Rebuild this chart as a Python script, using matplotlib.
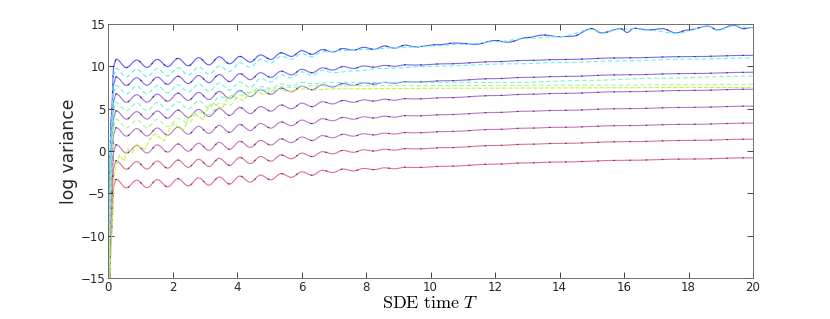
import numpy as np
import matplotlib
matplotlib.use('Agg')
import matplotlib.pyplot as plt
from matplotlib.path import Path
from matplotlib.patches import PathPatch
from matplotlib.colors import to_rgb

plt.rcParams['mathtext.fontset'] = 'cm'

# --- values ---
# initial jump of the paths (shared shape, second solid curve)
t_rise = [0.0, 0.1, 0.18]
l2_rise = [-16.0, 2.0, 8.0]

# peaks / troughs of the oscillation
t_osc = [0.25, 0.57, 0.89, 1.21, 1.53, 1.85, 2.17, 2.49, 2.81, 3.13,
         3.45, 3.77, 4.09, 4.41, 4.73, 5.05, 5.37, 5.69, 6.01, 6.33,
         6.65, 6.97, 7.29, 7.61, 7.93, 8.25, 8.57, 8.89, 9.21, 9.53]
l2_osc = [8.75, 7.75, 8.65, 7.77, 8.72, 7.87, 8.83, 7.97, 8.92, 8.07,
          9.03, 8.2, 9.14, 8.42, 9.25, 8.7, 9.43, 8.99, 9.65, 9.24,
          9.82, 9.56, 9.97, 9.75, 10.04, 9.9, 10.11, 10.0, 10.18, 10.15]
t_late = [10.5, 12.0, 13.0, 14.0, 16.0, 18.0, 20.0]
l2_late = [10.3, 10.55, 10.7, 10.8, 11.0, 11.15, 11.3]

# solid curves 2..8 are the same shape shifted down
solid_offsets = [0.0, -2.0, -4.0, -6.0, -8.0, -9.9, -12.1]
solid_colors = ['#8068f0', '#9670e2', '#a676d6', '#b67ac8',
                '#c678b8', '#d474a6', '#e2708f']

# top solid curve (blue)
top_rise = [-16.0, 4.0, 10.1]
top_osc = [10.85, 9.85, 10.75, 9.87, 10.82, 9.97, 10.93, 10.07, 11.02, 10.17,
           11.13, 10.3, 11.17, 10.5, 11.35, 10.82, 11.6, 11.17, 11.85, 11.42,
           11.98, 11.7, 12.1, 11.9, 12.25, 12.0, 12.4, 12.15, 12.5, 12.3]
t_top_late = [10.2, 10.8, 11.4, 12.0, 12.4, 13.0, 13.5, 14.0, 14.4, 15.0,
              15.3, 15.9, 16.1, 16.3, 16.8, 17.2, 17.6, 18.0, 18.6, 18.9,
              19.4, 19.7, 20.0]
top_late = [12.55, 12.75, 12.6, 13.05, 12.85, 13.4, 13.7, 13.5, 13.55, 14.45,
            13.95, 14.45, 14.0, 14.5, 14.3, 14.45, 13.95, 14.3, 14.75, 14.3,
            14.85, 14.45, 14.6]
top_color = '#5a5aff'

# dashed curves: early part = shared shape + offset, then own values
dash_offsets = [1.0, -1.0, -3.0, -5.0]
dash_split = [11, 13, 10, 7]          # number of shared peaks used
dash_colors = ['#5ff0f5', '#66f5e6', '#7af8c8', '#a6f8a0']

t_d1 = [3.77, 4.09, 4.41, 4.73, 5.05, 5.37, 5.69, 6.01, 6.33, 6.65,
        7.3, 8.0, 9.0, 10.0, 11.0, 12.0, 13.0, 14.0, 15.0, 15.3,
        15.9, 16.3, 16.8, 17.6, 18.6, 18.9, 19.4, 20.0]
d1 = [9.4, 10.4, 9.9, 10.8, 10.4, 11.2, 10.85, 11.5, 11.12, 11.7,
      11.85, 12.0, 12.2, 12.4, 12.6, 12.9, 13.3, 13.5, 14.35, 13.9,
      14.4, 14.45, 14.25, 13.9, 14.7, 14.25, 14.8, 14.55]
t_d2 = [4.41, 4.73, 5.05, 5.37, 5.69, 6.01, 6.33, 6.65, 6.97, 7.6,
        8.5, 10.0, 12.6, 14.0, 16.0, 18.0, 20.0]
d2 = [7.5, 8.55, 8.15, 8.98, 8.64, 9.35, 8.94, 9.52, 9.26, 9.45,
      9.75, 10.0, 10.3, 10.45, 10.65, 10.85, 11.0]
t_d3 = [3.45, 3.77, 4.09, 4.41, 4.73, 5.05, 5.37, 5.69, 6.01, 6.33,
        7.0, 8.0, 10.0, 12.6, 15.0, 17.0, 20.0]
d3 = [6.4, 6.2, 7.0, 6.9, 7.6, 7.4, 7.9, 7.7, 8.1, 7.95,
      8.1, 8.1, 8.1, 8.1, 8.35, 8.6, 8.85]
t_d4 = [2.49, 2.81, 3.13, 3.45, 3.77, 4.09, 4.41, 4.73, 5.05, 5.37,
        5.69, 6.2, 8.0, 12.0, 16.0, 20.0]
d4 = [3.3, 4.6, 4.3, 5.6, 5.4, 6.6, 6.5, 7.3, 7.2, 7.6,
      7.5, 7.7, 7.7, 7.75, 7.8, 7.87]
dash_late_t = [t_d1, t_d2, t_d3, t_d4]
dash_late = [d1, d2, d3, d4]

# noisy yellow-green curve
t_yg = [0.05, 0.2, 0.35, 0.5, 0.6, 0.75, 0.9, 1.0, 1.15, 1.3,
        1.45, 1.6, 1.75, 1.9, 2.05, 2.2, 2.35, 2.5, 2.65, 2.8,
        2.95, 3.1, 3.25, 3.4, 3.55, 3.7, 3.85, 4.0, 4.2, 4.4,
        4.6, 4.8, 5.0, 5.3, 5.6, 6.0, 6.4, 7.0, 8.0, 10.0,
        12.0, 14.0, 16.0, 18.0, 20.0]
yg = [-16.0, -2.5, -0.5, -1.2, 0.3, -0.2, 0.9, 0.4, 0.2, 1.4,
      2.0, 1.6, 1.2, 2.6, 3.2, 2.8, 2.5, 3.9, 4.5, 4.1,
      3.7, 5.2, 5.7, 5.3, 5.0, 6.2, 6.6, 6.2, 6.0, 6.9,
      7.1, 6.7, 7.0, 7.3, 7.0, 7.35, 7.2, 7.35, 7.35, 7.4,
      7.42, 7.45, 7.47, 7.5, 7.5]
yg_color = '#c4f53c'


def smooth_path(t, y):
    # cubic pieces with flat tangents at each read point (peaks/troughs)
    verts = [(t[0], y[0])]
    codes = [Path.MOVETO]
    for i in range(1, len(t)):
        h = (t[i] - t[i - 1]) * 0.36
        verts += [(t[i - 1] + h, y[i - 1]), (t[i] - h, y[i]), (t[i], y[i])]
        codes += [Path.CURVE4] * 3
    return Path(verts, codes)


def draw(ax, t, y, color, lw=0.8, ls='-', dark=True):
    p = smooth_path(list(t), list(y))
    ax.add_patch(PathPatch(p, fill=False, edgecolor=color, lw=lw,
                           linestyle=ls, capstyle='butt', joinstyle='round'))
    if dark:
        dc = tuple(np.array(to_rgb(color)) * 0.45)
        ax.add_patch(PathPatch(p, fill=False, edgecolor=dc, lw=lw,
                               linestyle=(0, (1.5, 13)), capstyle='butt'))


fig = plt.figure(figsize=(8.3, 3.19), dpi=100)
ax = fig.add_axes([108 / 830, 1 - 278 / 319, 645 / 830, 254 / 319])

t_l2 = np.concatenate([t_rise, t_osc, t_late])
y_l2 = np.concatenate([l2_rise, l2_osc, l2_late])

# solid curves
for off, c in zip(solid_offsets[::-1], solid_colors[::-1]):
    draw(ax, t_l2, y_l2 + off, c)
draw(ax, np.concatenate([t_rise, t_osc, t_top_late]),
     np.concatenate([top_rise, top_osc, top_late]), top_color)

# dashed curves
for off, n, tl, yl, c in zip(dash_offsets, dash_split, dash_late_t,
                             dash_late, dash_colors):
    t = np.concatenate([t_rise, t_osc[:n], tl])
    y = np.concatenate([np.array(l2_rise + l2_osc[:n]) + off, yl])
    draw(ax, t, y, c, lw=0.8, ls=(0, (4, 2.5)), dark=False)

ax.plot(t_yg, yg, color=yg_color, lw=0.8, ls=(0, (4, 1.5)))

ax.set_xlim(0, 20)
ax.set_ylim(-15, 15)
ax.set_xticks(np.arange(0, 21, 2))
ax.set_yticks(np.arange(-15, 16, 5))
ax.tick_params(direction='in', length=4, width=0.6, top=True, right=True,
               labelsize=8.5, colors='#262626', pad=2)
for s in ax.spines.values():
    s.set_color('#6e6e6e')
    s.set_linewidth(0.7)

ax.set_xlabel(r'$\mathrm{SDE\ time}\ T$', fontsize=13, labelpad=0)
ax.set_ylabel('log variance', fontsize=12.3, color='#262626', labelpad=2)

fig.savefig('out.png', dpi=100)
